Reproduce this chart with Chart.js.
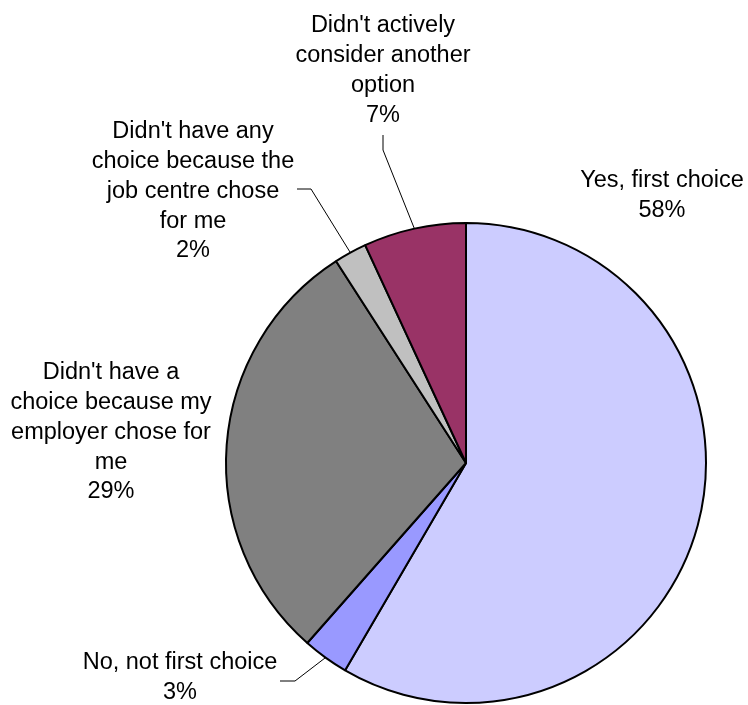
<!DOCTYPE html>
<html>
<head>
<meta charset="utf-8">
<script src="https://cdn.jsdelivr.net/npm/chart.js@4/dist/chart.umd.min.js"></script>
<style>
  body { margin: 0; background: #fff; }
  canvas { display: block; }
</style>
</head>
<body>
<canvas id="pie" width="748" height="705"></canvas>
<script>
// data (shares of 100)
const categories = [
  ['Yes, first choice'],
  ['No, not first choice'],
  ["Didn't have a", 'choice because my', 'employer chose for', 'me'],
  ["Didn't have any", 'choice because the', 'job centre chose', 'for me'],
  ["Didn't actively", 'consider another', 'option']
];
const shares = [58.4, 3.1, 29.4, 2.2, 6.9];
const colours = ['#CCCCFF', '#9999FF', '#808080', '#C0C0C0', '#993366'];

// where each label sits and how its leader line runs (page pixels)
const labelSpots = [
  { x: 662, y: 181, leader: null },
  { x: 180, y: 663, leader: [[295, 681], [280, 681]] },
  { x: 111, y: 373, leader: null },
  { x: 193, y: 132, leader: [[311, 189], [297, 189]] },
  { x: 383, y: 26,  leader: [[383, 150], [383, 135]] }
];
const lineGap = 29.7;

const total = shares.reduce((a, b) => a + b, 0);

const pieLabels = {
  id: 'pieLabels',
  afterDraw(chart) {
    const c = chart.ctx;
    const arcs = chart.getDatasetMeta(0).data;
    c.save();
    arcs.forEach((arc, i) => {
      const spot = labelSpots[i];
      const p = arc.getProps(['x', 'y', 'startAngle', 'endAngle', 'outerRadius'], true);
      if (spot.leader) {
        const mid = (p.startAngle + p.endAngle) / 2;
        c.beginPath();
        c.moveTo(p.x + Math.cos(mid) * p.outerRadius, p.y + Math.sin(mid) * p.outerRadius);
        spot.leader.forEach(pt => c.lineTo(pt[0], pt[1]));
        c.strokeStyle = '#000';
        c.lineWidth = 1;
        c.stroke();
      }
      const lines = categories[i].concat([Math.round(shares[i] / total * 100) + '%']);
      c.fillStyle = '#000';
      c.font = '23.5px "Liberation Sans", Arial, sans-serif';
      c.textAlign = 'center';
      c.textBaseline = 'middle';
      lines.forEach((t, k) => c.fillText(t, spot.x, spot.y + k * lineGap));
    });
    c.restore();
  }
};

new Chart(document.getElementById('pie'), {
  type: 'pie',
  data: {
    labels: categories.map(l => l.join(' ')),
    datasets: [{
      data: shares,
      backgroundColor: colours,
      borderColor: '#000',
      borderWidth: 2
    }]
  },
  options: {
    responsive: false,
    animation: false,
    layout: { padding: { left: 225, right: 41, top: 222, bottom: 1 } },
    plugins: {
      legend: { display: false },
      tooltip: { enabled: false }
    }
  },
  plugins: [pieLabels]
});
</script>
</body>
</html>
